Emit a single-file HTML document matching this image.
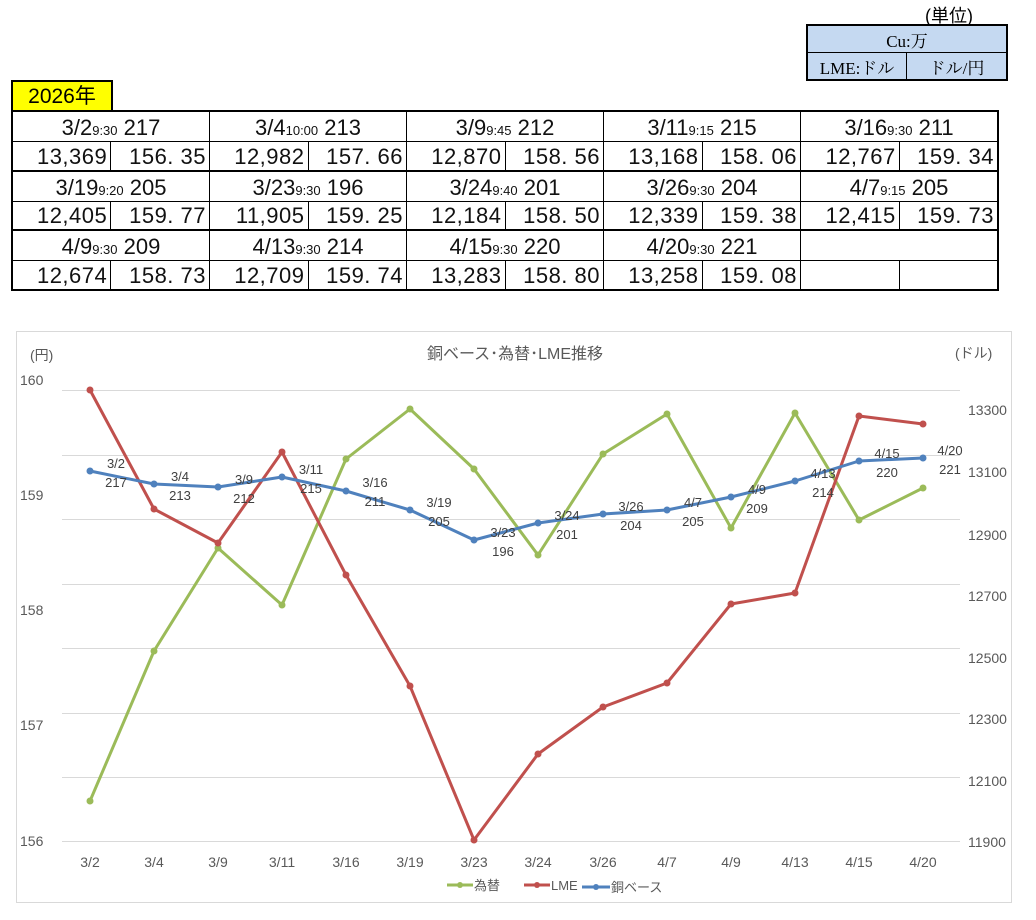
<!DOCTYPE html>
<html><head><meta charset="utf-8"><style>
body{margin:0;width:1036px;height:920px;background:#fff;position:relative;overflow:hidden;font-family:"Liberation Sans","Noto Sans CJK JP",sans-serif;}
.abs{position:absolute;}
table.d{position:absolute;left:11px;top:110px;border-collapse:collapse;border:2px solid #000;}
table.d td{border:1px solid #000;padding:0;height:29px;font-size:22px;color:#111;white-space:nowrap;line-height:26px;vertical-align:bottom;}
table.d td.h{text-align:center;width:196px;}
table.d td.n{text-align:right;width:98px;padding-right:3px;box-sizing:border-box;letter-spacing:0.5px;}
table.d tr.b td{border-bottom:2px solid #000;}
small{font-size:13px;line-height:13px;}
table.u{position:absolute;left:806px;top:24px;border-collapse:collapse;border:2px solid #000;background:#c5d9f1;}
table.u td{border:1px solid #000;height:26px;font-size:17px;text-align:center;font-family:"Liberation Serif","Noto Serif CJK SC",serif;padding:0;}
</style></head><body>
<div class="abs" style="left:925px;top:2px;font-size:18px;">(単位)</div>
<table class="u"><tr><td colspan="2" style="width:198px">Cu:万</td></tr><tr><td style="width:98px">LME:ドル</td><td>ドル/円</td></tr></table>
<div class="abs" style="left:11px;top:80px;width:98px;height:28px;background:#ffff00;border:2px solid #000;border-bottom:none;font-size:21px;text-align:center;line-height:30px;">2026年</div>
<table class="d">
<tr><td class="h" colspan="2">3/2<small>9:30</small>&nbsp;217</td><td class="h" colspan="2">3/4<small>10:00</small>&nbsp;213</td><td class="h" colspan="2">3/9<small>9:45</small>&nbsp;212</td><td class="h" colspan="2">3/11<small>9:15</small>&nbsp;215</td><td class="h" colspan="2">3/16<small>9:30</small>&nbsp;211</td></tr>
<tr class="b"><td class="n">13,369</td><td class="n">156. 35</td><td class="n">12,982</td><td class="n">157. 66</td><td class="n">12,870</td><td class="n">158. 56</td><td class="n">13,168</td><td class="n">158. 06</td><td class="n">12,767</td><td class="n">159. 34</td></tr>
<tr><td class="h" colspan="2">3/19<small>9:20</small>&nbsp;205</td><td class="h" colspan="2">3/23<small>9:30</small>&nbsp;196</td><td class="h" colspan="2">3/24<small>9:40</small>&nbsp;201</td><td class="h" colspan="2">3/26<small>9:30</small>&nbsp;204</td><td class="h" colspan="2">4/7<small>9:15</small>&nbsp;205</td></tr>
<tr class="b"><td class="n">12,405</td><td class="n">159. 77</td><td class="n">11,905</td><td class="n">159. 25</td><td class="n">12,184</td><td class="n">158. 50</td><td class="n">12,339</td><td class="n">159. 38</td><td class="n">12,415</td><td class="n">159. 73</td></tr>
<tr><td class="h" colspan="2">4/9<small>9:30</small>&nbsp;209</td><td class="h" colspan="2">4/13<small>9:30</small>&nbsp;214</td><td class="h" colspan="2">4/15<small>9:30</small>&nbsp;220</td><td class="h" colspan="2">4/20<small>9:30</small>&nbsp;221</td><td class="h" colspan="2"></td></tr>
<tr><td class="n">12,674</td><td class="n">158. 73</td><td class="n">12,709</td><td class="n">159. 74</td><td class="n">13,283</td><td class="n">158. 80</td><td class="n">13,258</td><td class="n">159. 08</td><td class="n"></td><td class="n"></td></tr>
</table>
<svg class="abs" style="left:0;top:0" width="1036" height="920" font-family="Liberation Sans, Noto Sans CJK JP, sans-serif">
<rect x="16.5" y="331.5" width="995" height="571" fill="none" stroke="#d9d9d9"/>
<g stroke="#d9d9d9" stroke-width="1">
<line x1="62" x2="960" y1="390.5" y2="390.5"/><line x1="62" x2="960" y1="455.5" y2="455.5"/><line x1="62" x2="960" y1="519.5" y2="519.5"/><line x1="62" x2="960" y1="584.5" y2="584.5"/><line x1="62" x2="960" y1="648.5" y2="648.5"/><line x1="62" x2="960" y1="713.5" y2="713.5"/><line x1="62" x2="960" y1="777.5" y2="777.5"/><line x1="62" x2="960" y1="841.5" y2="841.5"/>
</g>
<text x="515" y="359" font-size="16" fill="#595959" text-anchor="middle">銅ベース･為替･LME推移</text>
<g font-size="14" fill="#595959">
<text x="30" y="360">(円)</text><text x="955" y="358">(ドル)</text>
<text x="20" y="385">160</text><text x="20" y="500">159</text><text x="20" y="615">158</text><text x="20" y="730">157</text><text x="20" y="846">156</text>
<text x="968" y="415">13300</text><text x="968" y="477">13100</text><text x="968" y="540">12900</text><text x="968" y="601">12700</text><text x="968" y="663">12500</text><text x="968" y="724">12300</text><text x="968" y="786">12100</text><text x="968" y="847">11900</text>
</g>
<g font-size="14" fill="#595959" text-anchor="middle">
<text x="90" y="867">3/2</text><text x="154" y="867">3/4</text><text x="218" y="867">3/9</text><text x="282" y="867">3/11</text><text x="346" y="867">3/16</text><text x="410" y="867">3/19</text><text x="474" y="867">3/23</text><text x="538" y="867">3/24</text><text x="603" y="867">3/26</text><text x="667" y="867">4/7</text><text x="731" y="867">4/9</text><text x="795" y="867">4/13</text><text x="859" y="867">4/15</text><text x="923" y="867">4/20</text>
</g>
<g fill="none" stroke-width="3" stroke-linejoin="round">
<polyline stroke="#9bbb59" points="90,801 154,651 218,548 282,605 346,459 410,409 474,469 538,555 603,454 667,414 731,528 795,413 859,520 923,488"/>
<polyline stroke="#c0504d" points="90,390 154,509 218,543 282,452 346,575 410,686 474,840 538,754 603,707 667,683 731,604 795,593 859,416 923,424"/>
<polyline stroke="#4f81bd" points="90,471 154,484 218,487 282,477 346,491 410,510 474,540 538,523 603,514 667,510 731,497 795,481 859,461 923,458"/>
</g>
<g fill="#9bbb59"><circle cx="90" cy="801" r="3.5"/><circle cx="154" cy="651" r="3.5"/><circle cx="218" cy="548" r="3.5"/><circle cx="282" cy="605" r="3.5"/><circle cx="346" cy="459" r="3.5"/><circle cx="410" cy="409" r="3.5"/><circle cx="474" cy="469" r="3.5"/><circle cx="538" cy="555" r="3.5"/><circle cx="603" cy="454" r="3.5"/><circle cx="667" cy="414" r="3.5"/><circle cx="731" cy="528" r="3.5"/><circle cx="795" cy="413" r="3.5"/><circle cx="859" cy="520" r="3.5"/><circle cx="923" cy="488" r="3.5"/></g>
<g fill="#c0504d"><circle cx="90" cy="390" r="3.5"/><circle cx="154" cy="509" r="3.5"/><circle cx="218" cy="543" r="3.5"/><circle cx="282" cy="452" r="3.5"/><circle cx="346" cy="575" r="3.5"/><circle cx="410" cy="686" r="3.5"/><circle cx="474" cy="840" r="3.5"/><circle cx="538" cy="754" r="3.5"/><circle cx="603" cy="707" r="3.5"/><circle cx="667" cy="683" r="3.5"/><circle cx="731" cy="604" r="3.5"/><circle cx="795" cy="593" r="3.5"/><circle cx="859" cy="416" r="3.5"/><circle cx="923" cy="424" r="3.5"/></g>
<g fill="#4f81bd"><circle cx="90" cy="471" r="3.5"/><circle cx="154" cy="484" r="3.5"/><circle cx="218" cy="487" r="3.5"/><circle cx="282" cy="477" r="3.5"/><circle cx="346" cy="491" r="3.5"/><circle cx="410" cy="510" r="3.5"/><circle cx="474" cy="540" r="3.5"/><circle cx="538" cy="523" r="3.5"/><circle cx="603" cy="514" r="3.5"/><circle cx="667" cy="510" r="3.5"/><circle cx="731" cy="497" r="3.5"/><circle cx="795" cy="481" r="3.5"/><circle cx="859" cy="461" r="3.5"/><circle cx="923" cy="458" r="3.5"/></g>
<g font-size="13" fill="#404040" text-anchor="middle">
<text x="116" y="468">3/2</text><text x="116" y="487">217</text>
<text x="180" y="481">3/4</text><text x="180" y="500">213</text>
<text x="244" y="484">3/9</text><text x="244" y="503">212</text>
<text x="311" y="474">3/11</text><text x="311" y="493">215</text>
<text x="375" y="487">3/16</text><text x="375" y="506">211</text>
<text x="439" y="507">3/19</text><text x="439" y="526">205</text>
<text x="503" y="537">3/23</text><text x="503" y="556">196</text>
<text x="567" y="520">3/24</text><text x="567" y="539">201</text>
<text x="631" y="511">3/26</text><text x="631" y="530">204</text>
<text x="693" y="507">4/7</text><text x="693" y="526">205</text>
<text x="757" y="494">4/9</text><text x="757" y="513">209</text>
<text x="823" y="478">4/13</text><text x="823" y="497">214</text>
<text x="887" y="458">4/15</text><text x="887" y="477">220</text>
<text x="950" y="455">4/20</text><text x="950" y="474">221</text>
</g>
<g stroke-width="3"><line x1="447" x2="473" y1="885" y2="885" stroke="#9bbb59"/><line x1="524" x2="550" y1="885" y2="885" stroke="#c0504d"/><line x1="582" x2="610" y1="887" y2="887" stroke="#4f81bd"/></g>
<circle cx="460" cy="885" r="3" fill="#9bbb59"/><circle cx="537" cy="885" r="3" fill="#c0504d"/><circle cx="596" cy="887" r="3" fill="#4f81bd"/>
<g font-size="13" fill="#595959"><text x="474" y="890">為替</text><text x="551" y="890">LME</text><text x="611" y="892">銅ベース</text></g>
</svg>
</body></html>
